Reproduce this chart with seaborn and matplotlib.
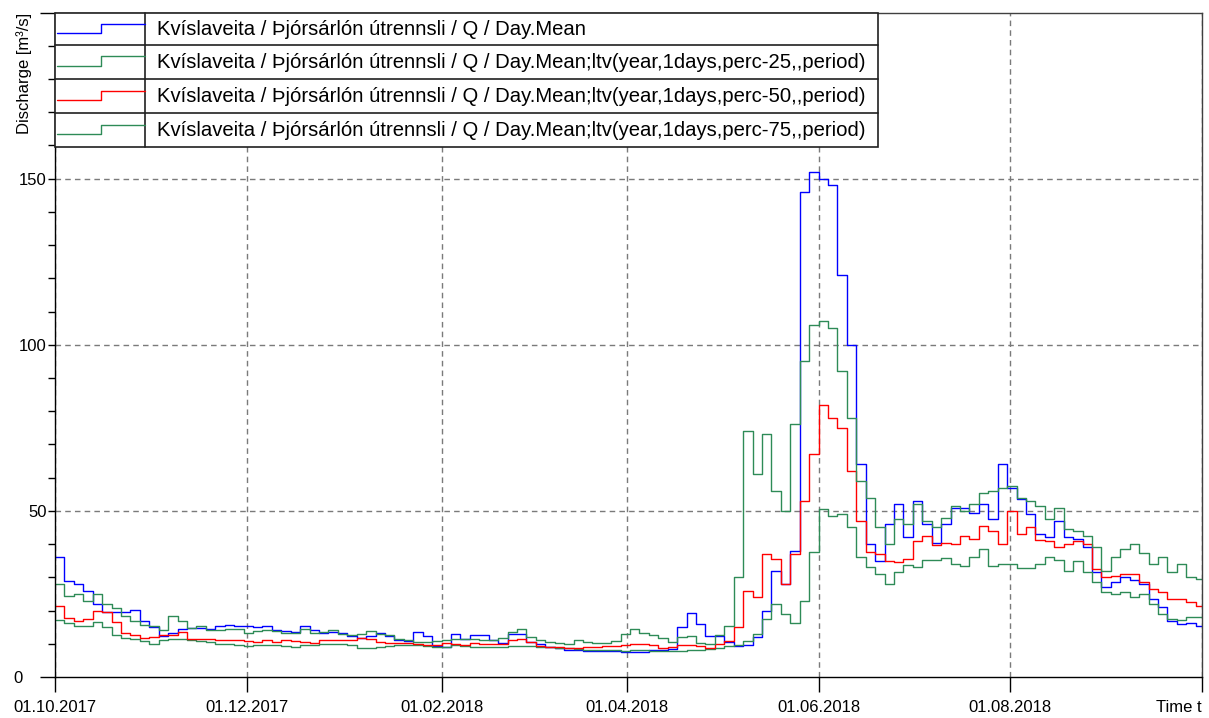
import numpy as np
import pandas as pd
import matplotlib
matplotlib.use("Agg")
import matplotlib.pyplot as plt
import matplotlib.dates as mdates
from matplotlib.lines import Line2D
from matplotlib.patches import Rectangle
from matplotlib.ticker import MultipleLocator, FuncFormatter
import seaborn as sns

W, H = 1209, 718

# --- data -------------------------------------------------------------
series_names = [
    "Kvíslaveita / Þjórsárlón útrennsli / Q / Day.Mean",
    "Kvíslaveita / Þjórsárlón útrennsli / Q / Day.Mean;ltv(year,1days,perc-25,,period)",
    "Kvíslaveita / Þjórsárlón útrennsli / Q / Day.Mean;ltv(year,1days,perc-50,,period)",
    "Kvíslaveita / Þjórsárlón útrennsli / Q / Day.Mean;ltv(year,1days,perc-75,,period)",
]
series_colors = ["#0000ff", "#2e8b57", "#ff0000", "#2e8b57"]

period_start = "2017-10-01"
period_end = "2018-10-01"
step_days = 3

# discharge [m3/s], one value per 3-day step from 01.10.2017
q_mean = [
    36, 29, 28, 26, 22, 19.5, 19.5, 19.5, 20.3, 17, 15, 12.3, 13.3, 14.3, 14.8, 14.8, 14.5, 15.5, 15.8, 15.5, 15.3,
    15, 15.5, 14.2, 13.7, 13.5, 15.5, 14.2, 13.3, 13.5, 13.2, 12.2, 11.8, 12.2, 13.2, 12.2, 11, 10.7, 13.5, 12.2, 9.4, 9.1,
    13, 11.5, 12.5, 12.6, 11, 10.3, 13, 13, 10.5, 9.8, 9.1, 8.8, 8.1, 8.1, 7.9, 7.9, 7.9, 7.7, 7.6, 7.6, 7.6,
    8, 8.2, 8.5, 15, 19.2, 16, 12.2, 12.2, 10.5, 9.2, 9.5, 12, 20, 32, 28, 38, 146, 152, 150, 148,
    121, 100, 64, 40, 35, 46, 52, 42, 53, 46, 40.3, 46, 51, 51, 49.5, 52, 47.5, 64, 57, 53.5,
    49, 43, 42, 47, 42, 41.5, 39, 31.5, 27, 28.5, 30, 29.2, 28, 23.5, 21.1, 17, 16, 16.3, 15.3,
]
q_p25 = [
    17.3, 16.2, 15.3, 15.5, 16.5, 15, 12.5, 11.8, 11.3, 10.8, 10, 11, 11.3, 11.3, 11.1, 10.8, 10.4, 9.8, 9.8, 9.6, 9.3,
    9.6, 9.6, 9.5, 9.4, 9.1, 9.6, 9.6, 9.9, 9.9, 9.9, 9.6, 8.8, 8.6, 9, 9.2, 9.6, 9.6, 9.6, 9.3, 9.1, 8.9,
    9.6, 9.2, 8.9, 8.9, 8.9, 9.1, 9.2, 9.3, 9.3, 8.9, 8.9, 8.8, 8.6, 8.5, 8.1, 8.1, 8.1, 8.1, 7.9, 8, 8.1,
    7.7, 7.7, 7.8, 7.9, 8, 8.2, 8.5, 8.7, 9.2, 9.7, 10.7, 13, 17.5, 22, 19, 16.2, 23, 37.5, 50.5, 48.5,
    49, 45, 36, 33, 31, 28, 31.7, 33.7, 33.2, 35.3, 35.2, 35.8, 34, 33.5, 36, 38.5, 33.5, 34, 34, 32.7,
    32.7, 34, 36.2, 35.2, 32, 35, 31.5, 28.5, 25.7, 25, 25.5, 24, 25, 22, 19.1, 17.5, 17.1, 18.1, 18.1,
]
q_p50 = [
    21.5, 17.8, 17, 17.5, 19.8, 19.5, 16.5, 13.3, 12.5, 11.8, 12, 12.5, 12.5, 13.5, 11.5, 11.3, 11.3, 11.1, 11, 11, 10.9,
    10.6, 11.2, 10.6, 11.1, 10.8, 10.6, 10.3, 11.1, 11.2, 11.1, 11.1, 11.6, 11.3, 10.6, 10.1, 10.1, 10.1, 9.8, 9.6, 9.6, 10.1,
    9.8, 9.6, 10.1, 9.8, 9.8, 10, 11, 11.5, 10.5, 9.4, 9.1, 9, 8.6, 8.7, 8.9, 9.1, 9.2, 9.3, 9.5, 9.8, 10,
    9.7, 8.7, 8.9, 9.5, 9.7, 9.2, 8.7, 10, 10.8, 15, 26, 24, 37, 35.5, 28, 37, 53, 67, 82, 78,
    75, 62, 47, 37.5, 37, 35, 34.5, 35.5, 41, 42.5, 39.8, 40.3, 40, 42.3, 41.5, 45.5, 44, 40, 50, 43,
    45, 41.2, 40.9, 39, 40, 41, 40, 32.5, 30.2, 30.5, 31, 31, 28.5, 26.5, 25.5, 23.6, 23.4, 22.5, 21.5,
]
q_p75 = [
    28, 24.5, 25, 23, 25, 22, 20.8, 18.5, 17, 15.8, 15.5, 14.2, 18.5, 17, 14.8, 15.3, 14, 14, 14.3, 14.3, 13.3,
    13.7, 14, 13.7, 13.3, 13.2, 14.5, 13.2, 13.5, 14, 13, 12.5, 13, 13.8, 12.8, 12.5, 11.5, 11, 10.6, 10.6, 10.8, 11.1,
    11.3, 11.3, 11.5, 11.1, 11, 11.8, 13.5, 14.5, 12, 11.1, 10.6, 10.2, 10, 11, 10.5, 10.1, 10.1, 10.9, 13, 14.5, 13.2,
    12.5, 11.8, 10.5, 12, 12.2, 10.2, 9.8, 12.5, 15.5, 30, 74, 61, 73, 56, 50, 76, 95, 106, 107, 105,
    92, 78, 59, 54, 45, 40, 47.5, 46, 52, 47, 45, 47.8, 51.5, 50, 52, 55.3, 56, 57, 57.5, 54,
    53, 51.5, 47.5, 51, 44.5, 44, 42.5, 39, 32, 36, 38.5, 40, 37.2, 34, 36, 31.7, 34, 30, 29.5,
]

tick_dates = ["2017-10-01", "2017-12-01", "2018-02-01", "2018-04-01",
              "2018-06-01", "2018-08-01", "2018-10-01"]
tick_labels = ["01.10.2017", "01.12.2017", "01.02.2018", "01.04.2018",
               "01.06.2018", "01.08.2018", "Time t"]
y_limits = [0, 200]
y_limit_labels = ["0", ""]
y_labelled = [50, 100, 150]
y_grid = [50, 100, 150]

# --- style ------------------------------------------------------------
sns.set_style("ticks")
plt.rcParams["font.family"] = ["Liberation Sans", "DejaVu Sans"]

# long-form table; last value held until the end of the period
times = pd.date_range(period_start, periods=len(q_mean), freq=f"{step_days}D")
times_closed = times.append(pd.DatetimeIndex([pd.Timestamp(period_end)]))
frames = []
for name, vals in zip(series_names, [q_mean, q_p25, q_p50, q_p75]):
    frames.append(pd.DataFrame({"time": times_closed,
                                "Q": list(vals) + [vals[-1]],
                                "series": name}))
df = pd.concat(frames, ignore_index=True)

fig = plt.figure(figsize=(W / 100, H / 100), dpi=100)
ax = fig.add_axes([55 / W, 1 - 677 / H, (1202 - 55) / W, (677 - 12.5) / H])

sns.lineplot(data=df, x="time", y="Q", hue="series", hue_order=series_names,
             palette=dict(zip(series_names, series_colors)),
             drawstyle="steps-post", estimator=None, legend=False,
             linewidth=1.0, ax=ax)

ax.set_xlim(mdates.date2num(pd.Timestamp(period_start)),
            mdates.date2num(pd.Timestamp(period_end)))
ax.set_ylim(*y_limits)
ax.set_xlabel("")
ax.set_ylabel("")

ax.set_xticks([mdates.date2num(pd.Timestamp(d)) for d in tick_dates])
ax.set_xticklabels(tick_labels)
ax.get_xticklabels()[-1].set_horizontalalignment("right")

# long ticks at the ends of the value axis, short ticks every 10 units
ax.set_yticks(y_limits)
ax.set_yticklabels(y_limit_labels)
ax.yaxis.set_minor_locator(MultipleLocator(10))
ax.yaxis.set_minor_formatter(
    FuncFormatter(lambda v, p: f"{v:.0f}" if round(v) in y_labelled else ""))

ax.tick_params(axis="both", which="major", direction="out", length=10.8,
               width=1.0, color="black", labelsize=12, labelcolor="black")
ax.tick_params(axis="x", which="major", pad=6)
ax.tick_params(axis="y", which="major", pad=12.2)
ax.tick_params(axis="y", which="minor", direction="out", length=5, width=1.0,
               color="black", labelsize=12, labelcolor="black", pad=0.8)

ax.grid(True, which="major", axis="x", color="#7a7a7a",
        linestyle=(0, (4, 3)), linewidth=1.0)
for yv in y_grid:
    ax.axhline(yv, color="#7a7a7a", linestyle=(0, (4, 3)), linewidth=1.0,
               zorder=0.5)
ax.set_axisbelow(True)

for side in ("left", "bottom"):
    ax.spines[side].set_color("black")
    ax.spines[side].set_linewidth(1.0)
for side in ("top", "right"):
    ax.spines[side].set_visible(True)
    ax.spines[side].set_color("#404040")
    ax.spines[side].set_linewidth(1.0)

# --- table-style legend -----------------------------------------------
def fx(x):
    return x / W


def fy(y):
    return 1 - y / H


leg_left, leg_right, leg_mid = 55, 878, 145
row_edges = [12.7, 45.0, 79.3, 113.3, 146.7]
frame_color = "#202020"

fig.add_artist(Rectangle((fx(leg_left), fy(row_edges[-1])),
                         fx(leg_right) - fx(leg_left),
                         fy(row_edges[0]) - fy(row_edges[-1]),
                         transform=fig.transFigure, facecolor="white",
                         edgecolor=frame_color, linewidth=1.2, zorder=5))
for yy in row_edges[1:-1]:
    fig.add_artist(Line2D([fx(leg_left), fx(leg_right)], [fy(yy), fy(yy)],
                          transform=fig.transFigure, color=frame_color,
                          linewidth=1.2, zorder=6))
fig.add_artist(Line2D([fx(leg_mid), fx(leg_mid)],
                      [fy(row_edges[0]), fy(row_edges[-1])],
                      transform=fig.transFigure, color=frame_color,
                      linewidth=1.2, zorder=6))

for top, name, col in zip(row_edges[:-1], series_names, series_colors):
    xs = [fx(57), fx(101), fx(101), fx(leg_mid)]
    ys = [fy(top + 20.6), fy(top + 20.6), fy(top + 11.3), fy(top + 11.3)]
    fig.add_artist(Line2D(xs, ys, transform=fig.transFigure, color=col,
                          linewidth=1.0, zorder=7))
    fig.text(fx(157), fy(top + 17.0), name, fontsize=14.55, ha="left",
             va="center", color="black", zorder=7)

fig.text(fx(24), fy(13), "Discharge [m³/s]", rotation=90, ha="center",
         va="top", fontsize=12, color="black")

fig.savefig("out.png", dpi=100)
